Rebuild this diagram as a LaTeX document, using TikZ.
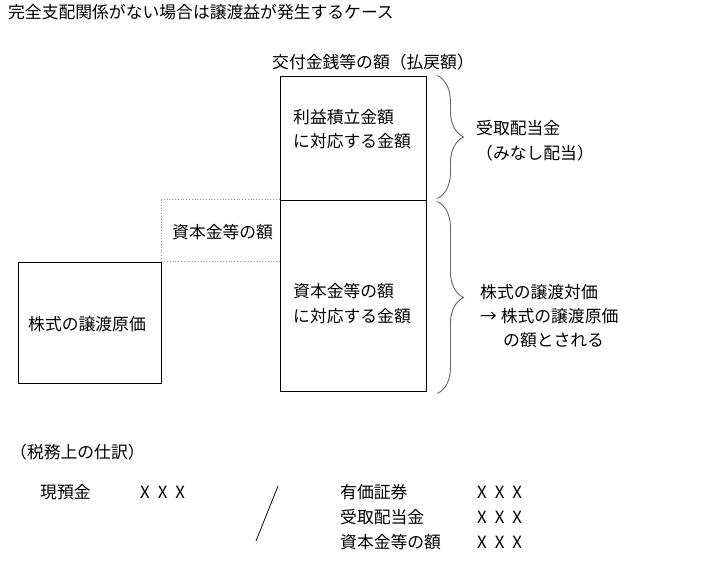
\documentclass[tikz,border=0pt]{standalone}
\usepackage{fontspec}
\setmainfont{Noto Sans CJK JP}
\usepackage{tikz}
\usetikzlibrary{positioning, calc, decorations.pathreplacing}
\definecolor{bracegray}{RGB}{100, 100, 100}
\definecolor{dotgray}{RGB}{150, 150, 150}
\newcommand{\xxx}{X\hspace{8pt}X\hspace{8pt}X}

\begin{document}
\begin{tikzpicture}[x=1pt, y=-1pt,
  box/.style={draw, line width=0.9pt, inner sep=0pt},
  txt/.style={anchor=west, inner sep=0pt, font=\fontsize{16.8}{19}\selectfont},
  brc/.style={decorate, decoration={brace, amplitude=26pt}, bracegray, line width=0.9pt},
]
\useasboundingbox (0,0) rectangle (703,561);
% Title
\node[txt] (title) at (8, 12) {完全支配関係がない場合は譲渡益が発生するケース};
\node[txt] (head) at (272, 62) {交付金銭等の額（払戻額）};

% Boxes
\node[box, minimum width=146pt, minimum height=124pt] (rieki) at (353, 138) {};
\node[box, minimum width=146pt, minimum height=191pt] (shihon) at (353, 295.5) {};
\node[box, minimum width=143pt, minimum height=121pt] (genka) at (89.5, 322.5) {};
\draw[dotgray, dotted, line width=0.8pt] (genka.north east) |- (shihon.north west);
\draw[dotgray, dotted, line width=0.8pt] (genka.north east) -- (genka.north east -| shihon.west);

% Box texts
\node[txt] (rieki1) at (293, 117) {利益積立金額};
\node[txt] (rieki2) at (293, 141) {に対応する金額};
\node[txt] (shihon1) at (293, 291) {資本金等の額};
\node[txt] (shihon2) at (293, 316) {に対応する金額};
\node[txt] (genkatxt) at (28, 324) {株式の譲渡原価};
\node[txt] (dottxt) at (172, 232) {資本金等の額};

% Braces
\draw[brc] ($(rieki.north east)+(11, 0)$) -- ($(rieki.south east)+(11, -2)$);
\draw[brc] ($(shihon.north east)+(11, 2)$) -- ($(shihon.south east)+(11, 2)$);
\node[txt] (haito1) at (476, 128) {受取配当金};
\node[txt] (haito2) at (476, 153) {（みなし配当）};
\node[txt] (taika1) at (480, 292) {株式の譲渡対価};
\node[txt] (taika2) at (480, 316) {→ 株式の譲渡原価};
\node[txt] (taika3) at (503, 340) {の額とされる};

% Journal entry
\node[txt] (shiwake) at (10, 452) {（税務上の仕訳）};
\node[txt] (genyo) at (40, 492) {現預金};
\node[txt] (genyox) at (140, 492) {\xxx};
\coordinate (slashtop) at (278, 486);
\coordinate (slashbot) at (256, 541);
\draw[line width=0.8pt] (slashtop) -- (slashbot);
\node[txt] (yuka) at (340, 492) {有価証券};
\node[txt] (yukax) at (477, 492) {\xxx};
\node[txt] (uketori) at (340, 517) {受取配当金};
\node[txt] (uketorix) at (477, 517) {\xxx};
\node[txt] (shihonkin) at (340, 542) {資本金等の額};
\node[txt] (shihonkinx) at (477, 542) {\xxx};
\end{tikzpicture}
\end{document}
